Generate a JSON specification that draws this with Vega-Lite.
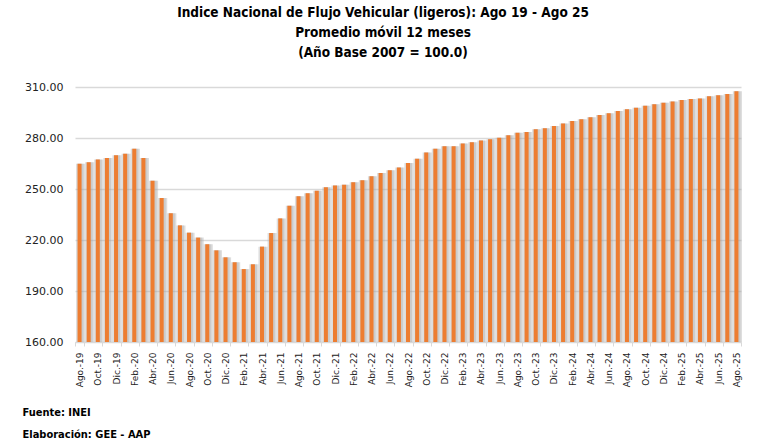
{
  "$schema": "https://vega.github.io/schema/vega-lite/v6.json",
  "width": 666,
  "height": 255,
  "autosize": {"type": "none"},
  "padding": {"left": 75, "top": 87, "right": 16, "bottom": 104},
  "background": "white",
  "title": {
    "text": ["Indice Nacional de Flujo Vehicular (ligeros): Ago 19 - Ago 25", "Promedio móvil 12 meses", "(Año Base 2007 = 100.0)"],
    "font": "Liberation Sans Narrow, DejaVu Sans Condensed, Liberation Sans",
    "fontSize": 13.5,
    "fontWeight": "bold",
    "color": "#000000",
    "lineHeight": 20,
    "anchor": "middle",
    "baseline": "bottom",
    "offset": 8,
    "dx": -25
  },
  "config": {
    "view": {"stroke": null}
  },
  "data": {
    "values": [
      {"mes": "Ago.-19", "valor": 264.9},
      {"mes": "Set.-19", "valor": 265.7},
      {"mes": "Oct.-19", "valor": 267.3},
      {"mes": "Nov.-19", "valor": 268.2},
      {"mes": "Dic.-19", "valor": 269.8},
      {"mes": "Ene.-20", "valor": 270.8},
      {"mes": "Feb.-20", "valor": 273.7},
      {"mes": "Mar.-20", "valor": 268.2},
      {"mes": "Abr.-20", "valor": 254.9},
      {"mes": "May.-20", "valor": 244.7},
      {"mes": "Jun.-20", "valor": 235.7},
      {"mes": "Jul.-20", "valor": 228.6},
      {"mes": "Ago.-20", "valor": 224.3},
      {"mes": "Set.-20", "valor": 221.4},
      {"mes": "Oct.-20", "valor": 217.5},
      {"mes": "Nov.-20", "valor": 213.9},
      {"mes": "Dic.-20", "valor": 209.8},
      {"mes": "Ene.-21", "valor": 206.9},
      {"mes": "Feb.-21", "valor": 202.9},
      {"mes": "Mar.-21", "valor": 205.7},
      {"mes": "Abr.-21", "valor": 216.1},
      {"mes": "May.-21", "valor": 224.1},
      {"mes": "Jun.-21", "valor": 232.7},
      {"mes": "Jul.-21", "valor": 240.2},
      {"mes": "Ago.-21", "valor": 245.7},
      {"mes": "Set.-21", "valor": 247.5},
      {"mes": "Oct.-21", "valor": 249.0},
      {"mes": "Nov.-21", "valor": 251.0},
      {"mes": "Dic.-21", "valor": 252.0},
      {"mes": "Ene.-22", "valor": 252.5},
      {"mes": "Feb.-22", "valor": 253.9},
      {"mes": "Mar.-22", "valor": 255.1},
      {"mes": "Abr.-22", "valor": 257.5},
      {"mes": "May.-22", "valor": 259.4},
      {"mes": "Jun.-22", "valor": 261.0},
      {"mes": "Jul.-22", "valor": 262.7},
      {"mes": "Ago.-22", "valor": 265.3},
      {"mes": "Set.-22", "valor": 267.8},
      {"mes": "Oct.-22", "valor": 271.4},
      {"mes": "Nov.-22", "valor": 273.7},
      {"mes": "Dic.-22", "valor": 275.1},
      {"mes": "Ene.-23", "valor": 275.1},
      {"mes": "Feb.-23", "valor": 276.7},
      {"mes": "Mar.-23", "valor": 277.5},
      {"mes": "Abr.-23", "valor": 278.6},
      {"mes": "May.-23", "valor": 279.2},
      {"mes": "Jun.-23", "valor": 280.1},
      {"mes": "Jul.-23", "valor": 281.6},
      {"mes": "Ago.-23", "valor": 283.1},
      {"mes": "Set.-23", "valor": 283.5},
      {"mes": "Oct.-23", "valor": 285.1},
      {"mes": "Nov.-23", "valor": 285.7},
      {"mes": "Dic.-23", "valor": 287.1},
      {"mes": "Ene.-24", "valor": 288.6},
      {"mes": "Feb.-24", "valor": 290.0},
      {"mes": "Mar.-24", "valor": 291.0},
      {"mes": "Abr.-24", "valor": 292.2},
      {"mes": "May.-24", "valor": 293.5},
      {"mes": "Jun.-24", "valor": 294.5},
      {"mes": "Jul.-24", "valor": 295.9},
      {"mes": "Ago.-24", "valor": 296.9},
      {"mes": "Set.-24", "valor": 297.8},
      {"mes": "Oct.-24", "valor": 299.0},
      {"mes": "Nov.-24", "valor": 299.8},
      {"mes": "Dic.-24", "valor": 300.8},
      {"mes": "Ene.-25", "valor": 301.4},
      {"mes": "Feb.-25", "valor": 302.4},
      {"mes": "Mar.-25", "valor": 302.9},
      {"mes": "Abr.-25", "valor": 303.3},
      {"mes": "May.-25", "valor": 304.5},
      {"mes": "Jun.-25", "valor": 305.1},
      {"mes": "Jul.-25", "valor": 305.9},
      {"mes": "Ago.-25", "valor": 307.5}
    ]
  },
  "encoding": {
    "x": {
      "field": "mes",
      "type": "nominal",
      "sort": null,
      "scale": {"paddingInner": 0, "paddingOuter": 0},
      "axis": {
        "values": ["Ago.-19","Oct.-19","Dic.-19","Feb.-20","Abr.-20","Jun.-20","Ago.-20","Oct.-20","Dic.-20","Feb.-21","Abr.-21","Jun.-21","Ago.-21","Oct.-21","Dic.-21","Feb.-22","Abr.-22","Jun.-22","Ago.-22","Oct.-22","Dic.-22","Feb.-23","Abr.-23","Jun.-23","Ago.-23","Oct.-23","Dic.-23","Feb.-24","Abr.-24","Jun.-24","Ago.-24","Oct.-24","Dic.-24","Feb.-25","Abr.-25","Jun.-25","Ago.-25"],
        "labelAngle": -90,
        "labelAlign": "right",
        "labelBaseline": "middle",
        "labelFont": "DejaVu Sans",
        "labelFontSize": 9,
        "labelColor": "#222222",
        "labelPadding": 6,
        "domainColor": "#d9d9d9",
        "domainWidth": 1,
        "tickColor": "#d9d9d9",
        "tickSize": 4,
        "tickBand": "extent",
        "grid": false,
        "title": ["Fuente: INEI", "Elaboración: GEE - AAP"],
        "titleFont": "Liberation Sans Narrow, DejaVu Sans Condensed, Liberation Sans",
        "titleFontSize": 11,
        "titleFontWeight": "bold",
        "titleColor": "#000000",
        "titleAnchor": "start",
        "titleAlign": "left",
        "titleBaseline": "alphabetic",
        "titleLineHeight": 22,
        "titleX": -53,
        "titleY": 73
      }
    },
    "y": {
      "field": "valor",
      "type": "quantitative",
      "scale": {"domain": [160, 310], "zero": false, "nice": false},
      "axis": {
        "values": [160, 190, 220, 250, 280, 310],
        "format": ".2f",
        "labelFont": "DejaVu Sans",
        "labelFontSize": 11,
        "labelColor": "#222222",
        "labelPadding": 12,
        "domain": false,
        "ticks": false,
        "gridColor": "#d9d9d9",
        "gridWidth": 1.5,
        "title": null
      }
    },
    "y2": {"datum": 160}
  },
  "layer": [
    {
      "mark": {"type": "bar", "color": "#b0b0b0", "opacity": 0.42, "width": {"band": 1.0}, "xOffset": 1}
    },
    {
      "mark": {"type": "bar", "color": "#a0a0a0", "opacity": 0.3, "width": {"band": 0.66}, "xOffset": 1}
    },
    {
      "mark": {"type": "bar", "color": "#ED7D31", "width": {"band": 0.44}}
    }
  ]
}
